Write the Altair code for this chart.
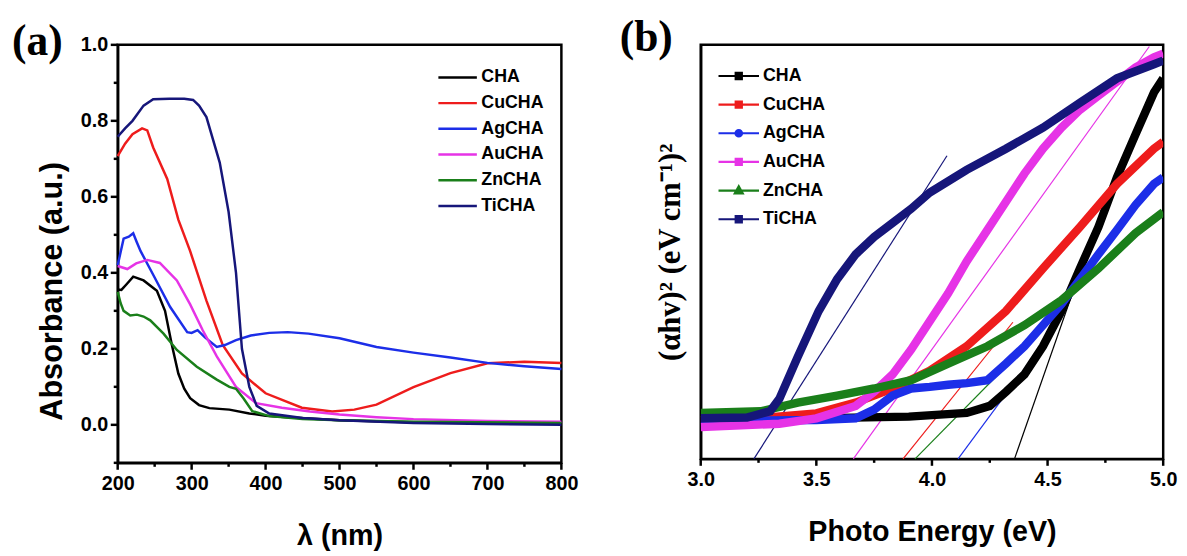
import altair as alt
import pandas as pd

series = ["CHA", "CuCHA", "AgCHA", "AuCHA", "ZnCHA", "TiCHA"]
colors = ["#000000", "#ee1c1c", "#1c2ee8", "#e633e6", "#1a7f1a", "#16167a"]

# ---------- panel (a): absorbance vs wavelength ----------
cha_nm = [200, 205, 212, 221, 235, 253, 264, 273, 282, 290, 298, 310, 324, 351, 378, 400, 430, 500, 600, 700, 800]
cha_abs = [0.356, 0.355, 0.37, 0.39, 0.38, 0.353, 0.30, 0.213, 0.135, 0.095, 0.07, 0.052, 0.044, 0.04, 0.03, 0.024, 0.02, 0.012, 0.007, 0.005, 0.005]

cu_nm = [200, 210, 220, 233, 240, 248, 267, 282, 298, 320, 342, 368, 400, 449, 490, 520, 550, 600, 650, 700, 750, 800]
cu_abs = [0.707, 0.74, 0.765, 0.78, 0.775, 0.73, 0.647, 0.54, 0.457, 0.327, 0.21, 0.135, 0.083, 0.045, 0.035, 0.04, 0.053, 0.099, 0.136, 0.162, 0.166, 0.163]

ag_nm = [200, 208, 215, 221, 226, 231, 248, 271, 294, 300, 308, 318, 334, 345, 360, 380, 405, 430, 458, 500, 550, 600, 650, 700, 750, 800]
ag_abs = [0.42, 0.49, 0.495, 0.504, 0.48, 0.457, 0.395, 0.31, 0.244, 0.242, 0.249, 0.23, 0.205, 0.21, 0.223, 0.235, 0.242, 0.244, 0.24, 0.228, 0.205, 0.19, 0.177, 0.163, 0.154, 0.147]

au_nm = [200, 213, 225, 240, 257, 280, 298, 315, 334, 360, 387, 422, 460, 500, 550, 600, 700, 800]
au_abs = [0.418, 0.41, 0.425, 0.434, 0.426, 0.38, 0.317, 0.249, 0.18, 0.10, 0.057, 0.045, 0.035, 0.027, 0.02, 0.015, 0.01, 0.008]

zn_nm = [200, 204, 208, 217, 226, 235, 244, 262, 280, 307, 334, 351, 360, 370, 382, 405, 450, 500, 600, 800]
zn_abs = [0.35, 0.32, 0.30, 0.288, 0.29, 0.285, 0.275, 0.24, 0.197, 0.153, 0.119, 0.10, 0.095, 0.07, 0.036, 0.023, 0.015, 0.012, 0.008, 0.005]

ti_nm = [200, 210, 220, 235, 248, 270, 290, 302, 310, 320, 338, 350, 360, 368, 378, 388, 405, 450, 500, 600, 700, 800]
ti_abs = [0.758, 0.78, 0.80, 0.84, 0.857, 0.858, 0.858, 0.855, 0.84, 0.81, 0.69, 0.56, 0.40, 0.20, 0.10, 0.05, 0.03, 0.018, 0.012, 0.005, 0.002, 0.0]

# ---------- panel (b): Tauc plot ----------
cha_e = [3.0, 3.3, 3.6, 3.9, 4.15, 4.25, 4.32, 4.40, 4.48, 4.56, 4.64, 4.72, 4.80, 4.88, 4.96, 5.0]
cha_t = [0.098, 0.098, 0.099, 0.102, 0.111, 0.128, 0.162, 0.204, 0.272, 0.357, 0.46, 0.56, 0.68, 0.783, 0.885, 0.919]

cu_e = [3.0, 3.25, 3.5, 3.67, 3.83, 3.99, 4.15, 4.32, 4.48, 4.64, 4.80, 4.96, 5.0]
cu_t = [0.094, 0.098, 0.11, 0.136, 0.17, 0.213, 0.272, 0.357, 0.46, 0.56, 0.664, 0.749, 0.766]

ag_e = [3.0, 3.3, 3.5, 3.67, 3.75, 3.83, 3.91, 3.99, 4.07, 4.15, 4.24, 4.32, 4.40, 4.48, 4.56, 4.64, 4.72, 4.80, 4.88, 4.96, 5.0]
ag_t = [0.094, 0.093, 0.094, 0.098, 0.119, 0.153, 0.17, 0.174, 0.179, 0.183, 0.19, 0.23, 0.272, 0.323, 0.374, 0.434, 0.494, 0.553, 0.613, 0.664, 0.68]

au_e = [3.0, 3.34, 3.5, 3.67, 3.75, 3.83, 3.91, 3.99, 4.07, 4.15, 4.24, 4.32, 4.40, 4.48, 4.56, 4.64, 4.72, 4.80, 4.88, 4.96, 5.0]
au_t = [0.077, 0.085, 0.098, 0.128, 0.162, 0.204, 0.264, 0.332, 0.40, 0.477, 0.553, 0.621, 0.689, 0.749, 0.80, 0.843, 0.877, 0.911, 0.945, 0.97, 0.979]

zn_e = [3.0, 3.26, 3.42, 3.59, 3.75, 3.91, 4.07, 4.24, 4.40, 4.56, 4.72, 4.88, 5.0]
zn_t = [0.111, 0.115, 0.136, 0.153, 0.17, 0.19, 0.23, 0.272, 0.323, 0.383, 0.46, 0.545, 0.596]

ti_e = [3.0, 3.2, 3.3, 3.34, 3.42, 3.51, 3.59, 3.67, 3.75, 3.83, 3.91, 3.99, 4.15, 4.32, 4.48, 4.64, 4.80, 4.96, 5.0]
ti_t = [0.098, 0.10, 0.115, 0.145, 0.247, 0.357, 0.434, 0.494, 0.536, 0.570, 0.604, 0.643, 0.698, 0.749, 0.80, 0.86, 0.919, 0.953, 0.962]

# tangent (band-gap extrapolation) lines: start and end points
tan_e = {"CHA": [4.357, 4.62], "CuCHA": [3.875, 4.35], "AgCHA": [4.113, 4.55],
         "AuCHA": [3.66, 4.94], "ZnCHA": [3.927, 4.35], "TiCHA": [3.23, 4.065]}
tan_t = {"CHA": [0.0, 0.42], "CuCHA": [0.0, 0.33], "AgCHA": [0.0, 0.33],
         "AuCHA": [0.0, 0.996], "ZnCHA": [0.0, 0.24], "TiCHA": [0.0, 0.732]}

a_major = [200, 300, 400, 500, 600, 700, 800]
a_minor = [250, 350, 450, 550, 650, 750]
a_ymajor = [0.0, 0.2, 0.4, 0.6, 0.8, 1.0]
a_yminor = [-0.1, 0.1, 0.3, 0.5, 0.7, 0.9]
b_major = [3.0, 3.5, 4.0, 4.5, 5.0]
b_minor = [3.25, 3.75, 4.25, 4.75]


# legend symbols for (b): a horizontal line with a marker drawn as nested outlines
def _sq(h):
    return f"M{-h},{-h}L{h},{-h}L{h},{h}L{-h},{h}Z"


def _ci(r):
    return f"M{r},0A{r},{r},0,1,1,{-r},0A{r},{r},0,1,1,{r},0Z"


def _tr(k):
    return f"M0,{-0.24 * k:.3f}L{0.22 * k:.3f},{0.15 * k:.3f}L{-0.22 * k:.3f},{0.15 * k:.3f}Z"


LINE = "M-1.12,0L1.12,0"
SQ = LINE + "".join(_sq(h) for h in (0.03, 0.08, 0.13, 0.17))
CI = LINE + "".join(_ci(r) for r in (0.03, 0.08, 0.13, 0.18))
TR = LINE + "".join(_tr(k) for k in (0.2, 0.45, 0.72, 1.0))
legend_paths = [SQ, SQ, CI, SQ, TR, SQ]

a_lists = [(cha_nm, cha_abs), (cu_nm, cu_abs), (ag_nm, ag_abs), (au_nm, au_abs), (zn_nm, zn_abs), (ti_nm, ti_abs)]
b_lists = [(cha_e, cha_t), (cu_e, cu_t), (ag_e, ag_t), (au_e, au_t), (zn_e, zn_t), (ti_e, ti_t)]

rows_a = []
for s, (xs, ys) in zip(series, a_lists):
    rows_a += [{"s": s, "nm": x, "A": y} for x, y in zip(xs, ys)]
df_a = pd.DataFrame(rows_a)

rows_b = []
for s, (xs, ys) in zip(series, b_lists):
    rows_b += [{"s": s, "E": x, "v": y} for x, y in zip(xs, ys)]
df_b = pd.DataFrame(rows_b)

rows_t = []
for s in series:
    rows_t += [{"s": s, "E": x, "v": y} for x, y in zip(tan_e[s], tan_t[s])]
df_t = pd.DataFrame(rows_t)

SANS = "Liberation Sans"
SERIF = "Liberation Serif"
TW = 2.5        # tick width
MAJ, MIN = 7, 4  # tick lengths


def xticks(values, field, scale, length, h):
    df = pd.DataFrame({field: values})
    return alt.Chart(df).transform_calculate(y0=f"{h}", y1=f"{h} + {length}").mark_rule(
        color="black", strokeWidth=TW).encode(
        x=alt.X(f"{field}:Q", scale=scale, axis=None),
        y=alt.Y("y0:Q", scale=None, axis=None), y2="y1:Q")


def yticks(values, field, scale, length):
    df = pd.DataFrame({field: values})
    return alt.Chart(df).transform_calculate(x0="0", x1=f"-{length}").mark_rule(
        color="black", strokeWidth=TW).encode(
        y=alt.Y(f"{field}:Q", scale=scale, axis=None),
        x=alt.X("x0:Q", scale=None, axis=None), x2="x1:Q")


# ---------- panel (a) ----------
xs_a = alt.Scale(domain=[200, 800], nice=False, zero=False)
ys_a = alt.Scale(domain=[-0.1, 1.0], nice=False, zero=False)
H_A, W_A = 423, 449

ax_xa = alt.Axis(orient="bottom", values=a_major, ticks=False, title="λ (nm)",
                 titlePadding=29, labelPadding=4 + MAJ, labelFlush=False)
ax_ya = alt.Axis(orient="left", values=a_ymajor, format=".1f", ticks=False,
                 title="Absorbance (a.u.)", titleFontSize=31, titlePadding=12,
                 titleY=249, labelPadding=3 + MAJ, labelFlush=False)

leg_a = alt.Legend(title=None, orient="none", legendX=327, legendY=16,
                   symbolType="M-1.24,0L1.24,0", symbolSize=986, symbolStrokeWidth=2.5,
                   labelFont=SANS, labelFontWeight="bold", labelFontSize=18,
                   labelColor="black", labelOffset=7, rowPadding=0, padding=0)

lines_a = alt.Chart(df_a).mark_line(strokeWidth=2.5).encode(
    x=alt.X("nm:Q", scale=xs_a, axis=ax_xa),
    y=alt.Y("A:Q", scale=ys_a, axis=ax_ya),
    color=alt.Color("s:N", scale=alt.Scale(domain=series, range=colors), legend=leg_a),
    order=alt.Order("nm:Q"),
)

lab_a = alt.Chart(pd.DataFrame({"t": ["(a)"]})).mark_text(
    font=SERIF, fontWeight="bold", fontSize=44, align="left", baseline="alphabetic", color="black"
).encode(text="t:N", x=alt.value(-107), y=alt.value(10))

panel_a = alt.layer(
    lines_a,
    xticks(a_major, "nm", xs_a, MAJ, H_A),
    xticks(a_minor, "nm", xs_a, MIN, H_A),
    yticks(a_ymajor, "A", ys_a, MAJ),
    yticks(a_yminor, "A", ys_a, MIN),
    lab_a,
).resolve_scale(x="independent", y="independent").properties(width=W_A, height=H_A)

# ---------- panel (b) ----------
xs_b = alt.Scale(domain=[3.0, 5.0], nice=False, zero=False)
ys_b = alt.Scale(domain=[0, 1], nice=False, zero=False)
H_B, W_B = 419, 468
ax_yb = alt.Axis(orient="left", ticks=False, labels=False, title="(αhv)² (eV cm⁻¹)²",
                 titleFont=SERIF, titleFontSize=31, titlePadding=14)
ax_xb = alt.Axis(orient="bottom", values=b_major, format=".1f", ticks=False,
                 title="Photo Energy (eV)", titlePadding=29, labelPadding=4 + MAJ,
                 labelFlush=False)
xb = alt.X("E:Q", scale=xs_b, axis=ax_xb)
yb = alt.Y("v:Q", scale=ys_b, axis=ax_yb)

cscale = alt.Scale(domain=series, range=colors)

tan_layer = alt.Chart(df_t).mark_line(strokeWidth=1.2).encode(
    x=xb, y=yb, color=alt.Color("s:N", scale=cscale, legend=None), detail="s:N")

line_b = alt.Chart(df_b).mark_line(strokeWidth=8.5, clip=True).encode(
    x=xb, y=yb, color=alt.Color("s:N", scale=cscale, legend=None), order=alt.Order("E:Q"))

leg_b = alt.Legend(title=None, orient="none", legendX=19, legendY=12,
                   symbolSize=1340, symbolStrokeWidth=2.2,
                   labelFont=SANS, labelFontWeight="bold", labelFontSize=18,
                   labelColor="black", labelOffset=5, rowPadding=0, padding=0)
leg_layer = alt.Chart(df_b).transform_filter("false").mark_point(
    filled=False, strokeWidth=2.2, opacity=1).encode(
    x=xb, y=yb,
    color=alt.Color("s:N", scale=alt.Scale(domain=series, range=colors), legend=leg_b),
    shape=alt.Shape("s:N", scale=alt.Scale(domain=series, range=legend_paths), legend=leg_b),
)

lab_b = alt.Chart(pd.DataFrame({"t": ["(b)"]})).mark_text(
    font=SERIF, fontWeight="bold", fontSize=44, align="left", baseline="alphabetic", color="black"
).encode(text="t:N", x=alt.value(-82), y=alt.value(6))

inner_b = alt.layer(tan_layer, line_b, leg_layer, lab_b).resolve_scale(
    color="independent", shape="independent")

panel_b = alt.layer(
    inner_b,
    xticks(b_major, "E", xs_b, MAJ, H_B),
    xticks(b_minor, "E", xs_b, MIN, H_B),
).resolve_scale(x="independent", y="independent").properties(width=W_B, height=H_B)

chart = alt.hconcat(panel_a, panel_b, spacing=39).resolve_scale(
    color="independent", shape="independent"
).resolve_legend(
    color="independent", shape="independent"
).properties(
    padding={"left": 2, "top": 3, "right": 0, "bottom": 0}
).configure_view(
    stroke="black", strokeWidth=2.5
).configure_axis(
    grid=False, domainColor="black", domainWidth=2.5,
    labelFont=SANS, labelFontWeight="bold", labelFontSize=20, labelColor="black",
    titleFont=SANS, titleFontWeight="bold", titleFontSize=29, titleColor="black",
)

chart.save("out.html", embed_options={"renderer": "svg", "actions": False})
